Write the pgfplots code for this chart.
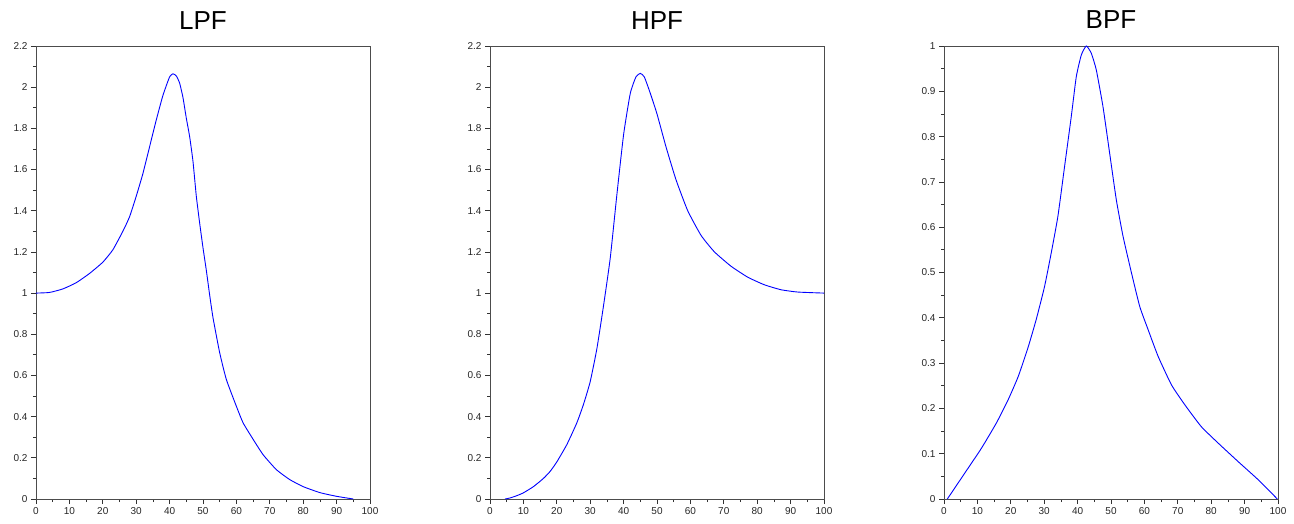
\documentclass[border=0pt]{standalone}
\usepackage{fontspec}
\setmainfont{Liberation Sans}
\usepackage{pgfplots}
\pgfplotsset{compat=1.18}

% magnitude responses (x = sample index, y = gain)
\pgfplotstableread{
x y
0 1.000
4 1.003
8 1.020
12 1.050
16 1.095
20 1.150
23 1.210
26 1.300
28 1.370
30 1.470
32 1.580
34 1.710
36 1.840
38 1.960
40 2.050
41 2.065
42 2.055
43 2.020
44 1.950
45 1.850
46 1.760
47 1.640
48 1.470
49 1.340
50 1.220
51 1.110
52 0.990
53 0.880
55 0.710
57 0.580
60 0.450
62 0.370
65 0.290
68 0.215
72 0.142
76 0.094
80 0.060
85 0.031
90 0.013
95 0.000
}\lpf

\pgfplotstableread{
x y
4.5 0.000
6 0.005
8 0.016
10 0.030
13 0.060
16 0.100
18 0.134
20 0.180
23 0.264
26 0.370
28 0.460
30 0.570
32 0.730
34 0.940
36 1.170
38 1.480
40 1.770
42 1.970
43.7 2.050
45 2.067
46.2 2.050
48 1.970
50 1.870
52.7 1.710
55.7 1.550
59.2 1.400
63.2 1.280
67.2 1.200
72.2 1.130
77.2 1.077
82.2 1.040
87.2 1.016
92.2 1.005
100 1.000
}\hpf

\pgfplotstableread{
x y
1 0.000
6.2 0.057
11.2 0.112
15.7 0.168
19.2 0.219
22.2 0.270
25.1 0.333
27.6 0.396
30.1 0.469
32.1 0.543
34.1 0.624
36.1 0.734
38.1 0.844
39.6 0.932
41.1 0.980
42.6 1.000
44.1 0.984
45.6 0.947
47.6 0.866
49.6 0.763
51.6 0.660
53.6 0.580
56.1 0.500
58.6 0.425
61.1 0.374
64.1 0.315
68.1 0.252
72.1 0.208
77.0 0.160
82.0 0.124
88.0 0.083
94.0 0.043
99.8 0.000
}\bpf

\pgfplotsset{scistyle/.style={
    scale only axis, width=334pt, height=453pt,
    xmin=0, xmax=100, xtick={0,10,...,100},
    minor x tick num=1, minor y tick num=1,
    tick align=outside, tick pos=left,
    major tick length=5pt, minor tick length=3pt,
    axis line style={black!70, line width=0.8pt},
    every tick/.style={black!80, line width=0.8pt},
    tick label style={font=\fontsize{10}{12}\selectfont, text=black!85},
    /pgf/number format/assume math mode=true,
    every axis title shift=0pt,
    title style={font=\fontsize{26}{30}\selectfont, at={(0.5,1)}, anchor=base, yshift=17pt},
    anchor=south west,
}}

\begin{document}
\begin{tikzpicture}
\useasboundingbox (0pt,0pt) rectangle (1294pt,-524pt);

\begin{axis}[scistyle, at={(36pt,-499pt)}, title={LPF},
    ymin=0, ymax=2.2, ytick={0,0.2,0.4,0.6,0.8,1,1.2,1.4,1.6,1.8,2,2.2}]
\addplot[blue, line width=0.9pt, smooth, tension=0.3] table {\lpf};
\end{axis}

\begin{axis}[scistyle, at={(490pt,-499pt)}, title={HPF},
    ymin=0, ymax=2.2, ytick={0,0.2,0.4,0.6,0.8,1,1.2,1.4,1.6,1.8,2,2.2}]
\addplot[blue, line width=0.9pt, smooth, tension=0.3] table {\hpf};
\end{axis}

\begin{axis}[scistyle, at={(944pt,-499pt)}, title={BPF},
    ymin=0, ymax=1, ytick={0,0.1,0.2,0.3,0.4,0.5,0.6,0.7,0.8,0.9,1}]
\addplot[blue, line width=0.9pt, smooth, tension=0.3] table {\bpf};
\end{axis}
\end{tikzpicture}
\end{document}
